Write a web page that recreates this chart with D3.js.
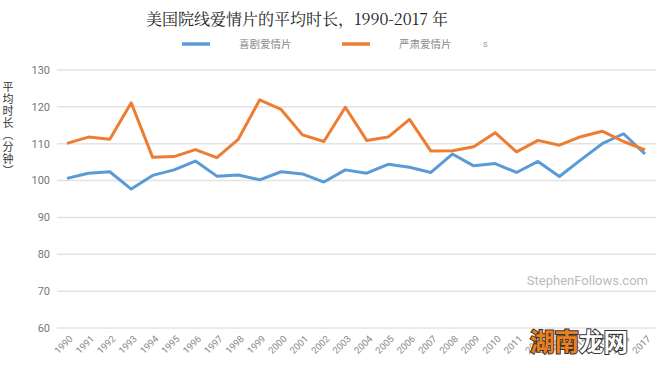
<!DOCTYPE html>
<html>
<head>
<meta charset="utf-8">
<script src="https://d3js.org/d3.v7.min.js"></script>
<style>
  body { margin: 0; background: #fff; }
  svg { display: block; }
</style>
</head>
<body>
<div id="chart"></div>
<script>
const years = d3.range(1990, 2018);
const comedy = [100.6, 102.0, 102.4, 97.7, 101.4, 102.9, 105.3, 101.2, 101.5, 100.2,
  102.4, 101.8, 99.6, 102.9, 102.0, 104.4, 103.6, 102.2, 107.2, 104.0,
  104.6, 102.2, 105.2, 101.1, 105.6, 110.0, 112.7, 107.2];
const drama = [110.1, 111.8, 111.2, 121.1, 106.3, 106.5, 108.4, 106.2, 111.2, 121.9,
  119.3, 112.4, 110.6, 119.9, 110.9, 111.8, 116.6, 108.0, 108.1, 109.2,
  113.0, 107.8, 110.9, 109.6, 111.9, 113.4, 110.6, 108.3];
const yTicks = [60, 70, 80, 90, 100, 110, 120, 130];
const seriesNames = ['喜剧爱情片', '严肃爱情片'];
const colors = ['#5b9bd5', '#ed7d31'];

const width = 660, height = 368;
const margin = { top: 70, right: 4, bottom: 40, left: 57 };

const svg = d3.select('#chart').append('svg')
  .attr('width', width)
  .attr('height', height);

const x = d3.scaleLinear()
  .domain([1990, 2017])
  .range([67, 645]);

const y = d3.scaleLinear()
  .domain([60, 130])
  .range([328, 70]);

// gridlines
svg.append('g')
  .selectAll('line')
  .data(yTicks)
  .join('line')
  .attr('x1', margin.left)
  .attr('x2', 656)
  .attr('y1', d => y(d))
  .attr('y2', d => y(d))
  .attr('stroke', '#e3e3e3')
  .attr('stroke-width', 1.5);

// y tick labels
svg.append('g')
  .selectAll('text')
  .data(yTicks)
  .join('text')
  .attr('x', 50)
  .attr('y', d => y(d))
  .attr('dy', '0.35em')
  .attr('text-anchor', 'end')
  .attr('font-family', 'Roboto, sans-serif')
  .attr('font-size', 11)
  .attr('fill', '#777')
  .text(d => d);

// x tick labels, rotated
svg.append('g')
  .selectAll('text')
  .data(years)
  .join('text')
  .attr('transform', d => `translate(${x(d) + 4},${337}) rotate(-45)`)
  .attr('text-anchor', 'end')
  .attr('dy', '0.35em')
  .attr('font-family', 'Roboto, sans-serif')
  .attr('font-size', 9.5)
  .attr('fill', '#888')
  .text(d => d);

// watermark
svg.append('text')
  .attr('x', 648)
  .attr('y', 285)
  .attr('text-anchor', 'end')
  .attr('font-family', 'Roboto, sans-serif')
  .attr('font-size', 13)
  .attr('fill', '#bbb')
  .text('StephenFollows.com');

// lines
const line = d3.line()
  .x((d, i) => x(years[i]))
  .y(d => y(d));

[comedy, drama].forEach((values, i) => {
  svg.append('path')
    .datum(values)
    .attr('fill', 'none')
    .attr('stroke', colors[i])
    .attr('stroke-width', 3)
    .attr('stroke-linejoin', 'round')
    .attr('d', line);
});

// title
svg.append('text')
  .attr('x', 297)
  .attr('y', 25)
  .attr('text-anchor', 'middle')
  .attr('font-family', '"Noto Serif CJK SC", "Noto Sans CJK SC", serif')
  .attr('font-size', 16)
  .attr('fill', '#222')
  .text('美国院线爱情片的平均时长，1990-2017 年');

// legend
const legend = svg.append('g');
const legendX = [182, 342];
seriesNames.forEach((name, i) => {
  legend.append('line')
    .attr('x1', legendX[i])
    .attr('x2', legendX[i] + 28)
    .attr('y1', 44)
    .attr('y2', 44)
    .attr('stroke', colors[i])
    .attr('stroke-width', 3.5);
  legend.append('text')
    .attr('x', legendX[i] + 57)
    .attr('y', 44)
    .attr('dy', '0.35em')
    .attr('font-family', '"Noto Sans CJK SC", sans-serif')
    .attr('font-size', 10.5)
    .attr('fill', '#888')
    .text(name);
});
legend.append('text')
  .attr('x', 483)
  .attr('y', 44)
  .attr('dy', '0.35em')
  .attr('font-family', 'Roboto, sans-serif')
  .attr('font-size', 9)
  .attr('fill', '#999')
  .text('s');

// y axis title, vertical
svg.append('text')
  .attr('x', 8)
  .attr('y', 81)
  .attr('writing-mode', 'tb')
  .attr('letter-spacing', 1)
  .attr('font-family', '"Noto Sans CJK SC", sans-serif')
  .attr('font-size', 11)
  .attr('fill', '#333')
  .text('平均时长（分钟）');

// site logo overlay
const logo = svg.append('text')
  .attr('x', 530)
  .attr('y', 351)
  .attr('font-family', '"Noto Sans CJK SC", sans-serif')
  .attr('font-weight', 'bold')
  .attr('font-size', 24.5)
  .attr('stroke', '#333')
  .attr('stroke-width', 2)
  .attr('paint-order', 'stroke');
logo.append('tspan').attr('fill', '#f07f18').text('湖南');
logo.append('tspan').attr('fill', '#fff').text('龙网');
</script>
</body>
</html>
